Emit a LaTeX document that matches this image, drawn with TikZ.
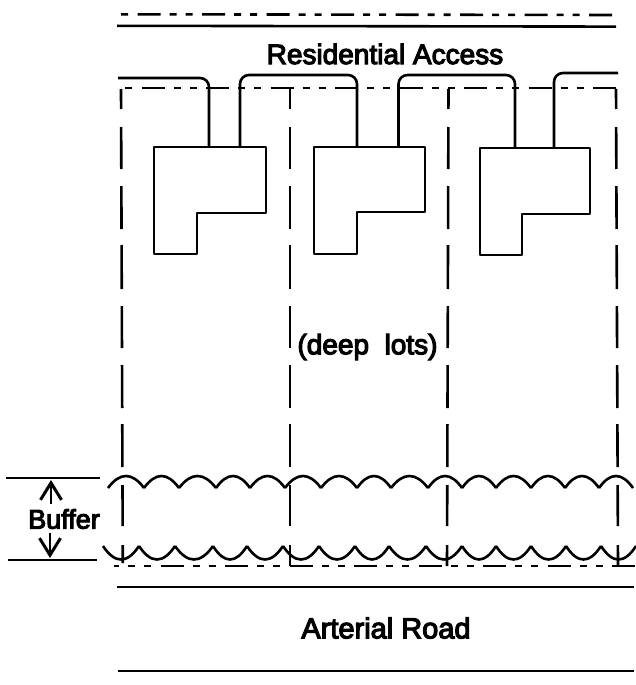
\documentclass[tikz,border=0pt]{standalone}
\usepackage{fontspec}
\setmainfont[FakeBold=4]{Liberation Sans}
\usetikzlibrary{arrows.meta}
\tikzset{
  solid line/.style={line width=2.6pt,black},
  lot line/.style={line width=2.6pt,black,line cap=butt},
  boundary/.style={line width=2.6pt,black,dash pattern=on 23pt off 9pt on 7pt off 9pt on 7pt off 9.5pt},
  house/.style={line width=2.6pt,black,line join=round},
  drive/.style={line width=2.6pt,black,rounded corners=9pt},
  scallop/.style={line width=2.6pt,black,line join=miter},
  label text/.style={font=\fontsize{28pt}{30pt}\selectfont,inner sep=0pt,black},
  dim arrow/.style={line width=1.3pt,black,-{Straight Barb[length=17pt,width=21pt,line width=3pt]}}
}
\begin{document}
\begin{tikzpicture}[x=1pt,y=-1pt]
\useasboundingbox[fill=white] (0,0) rectangle (636,685);
% roads
\draw[boundary,dash phase=47pt] (120,14.3) -- (616,15);
\draw[solid line] (117,25.8) -- (616,26.6);
\draw[solid line] (117,587) -- (634,587);
\draw[solid line] (118,671) -- (634,671);
% lot lines
\draw[boundary,dash phase=44pt] (121,88) -- (616,88);
\draw[boundary,dash phase=18pt] (114,566) -- (636,566);
% vertical lot lines
\foreach \xa/\xb/\ye in {121/122.8/563,290/290/566,448.5/447/566,616/618/566}{
  \foreach \ya/\yb in {89/109,127/169,186/229,245/289,306/348,365/408,424/467,485/526,545/\ye}{
    \pgfmathsetmacro{\pa}{\xa+(\xb-\xa)*(\ya-88)/478}
    \pgfmathsetmacro{\pb}{\xa+(\xb-\xa)*(\yb-88)/478}
    \draw[lot line] (\pa,\ya) -- (\pb,\yb);
  }
}
% houses
\draw[house] (154,147) -- (266,147) -- (266,213) -- (197,213) -- (197,254) -- (154,254) -- cycle;
\draw[house] (314,147) -- (425,147) -- (425,212) -- (357,212) -- (357,254) -- (314,254) -- cycle;
\draw[house] (480,148) -- (590,148) -- (590,214) -- (522,214) -- (522,255) -- (480,255) -- cycle;
% driveways
\draw[drive] (118,78) -- (209,78) -- (209,147);
\draw[drive] (240,147) -- (240,75) -- (357,75) -- (357,147);
\draw[drive] (398.5,147) -- (398.5,75) -- (515,75) -- (515,148);
\draw[drive] (554,148) -- (554,73) -- (618,73);
% buffer planting
\foreach \a/\b in {108/144,144/179,179/216,216/250,250/285,285/321,321/357,357/391,391/428,428/462,462/496,496/531,531/565,565/599,599/633}{
  \draw[scallop] (\a,488) .. controls ({\a+0.33*(\b-\a)},472) and ({\b-0.33*(\b-\a)},472) .. (\b,488);
}
\foreach \a/\b in {103/139,139/175,175/213,213/247,247/283,283/319,319/355,355/389,389/426,426/462,462/496,496/531,531/566,566/601,601/636}{
  \draw[scallop] (\a,546) .. controls ({\a+0.33*(\b-\a)},564) and ({\b-0.33*(\b-\a)},564) .. (\b,546);
}
% labels
\node[label text] (access) at (385,54) {Residential Access};
\node[label text] (lots) at (367.5,347) {(deep\ \ lots)};
\node[label text,font=\fontsize{29pt}{30pt}\selectfont] (arterial) at (386,628) {Arterial Road};
\node[label text,font=\fontsize{27pt}{30pt}\selectfont] (buffer) at (64,519) {Buffer};
% buffer dimension
\coordinate (dimTopL) at (6,478);
\coordinate (dimTopR) at (100,478);
\coordinate (dimBotL) at (8,560);
\coordinate (dimBotR) at (97,560);
\coordinate (upEnd) at (51,504);
\coordinate (upTip) at (51,480);
\coordinate (downEnd) at (50,533);
\coordinate (downTip) at (50,558);
\draw[solid line] (dimTopL) -- (dimTopR);
\draw[solid line] (dimBotL) -- (dimBotR);
\draw[dim arrow] (upEnd) -- (upTip);
\draw[dim arrow] (downEnd) -- (downTip);
\end{tikzpicture}
\end{document}
